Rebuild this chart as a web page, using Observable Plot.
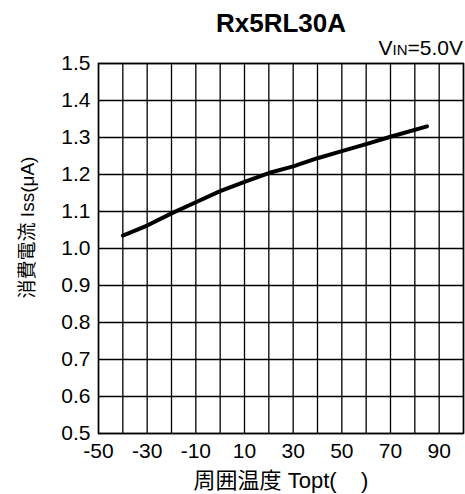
<!DOCTYPE html>
<html>
<head>
<meta charset="utf-8">
<script src="https://cdn.jsdelivr.net/npm/d3@7"></script>
<script src="https://cdn.jsdelivr.net/npm/@observablehq/plot@0.6"></script>
<style>
  html, body { margin: 0; padding: 0; background: #fff; }
  svg { display: block; }
</style>
</head>
<body>
<div id="chart"></div>
<script>
const title = "Rx5RL30A";
const xLabel = "周囲温度 Topt(\u00a0\u00a0\u00a0\u00a0)";
const yLabel = "消費電流 Iss(μA)";
const temps = [-40, -30, -20, -10, 0, 10, 20, 30, 40, 50, 60, 70, 85];
const iss = [1.035, 1.062, 1.095, 1.125, 1.155, 1.18, 1.204, 1.222, 1.244, 1.263, 1.282, 1.302, 1.33];
const xGrid = d3.range(-50, 101, 10);
const yGrid = d3.range(5, 16).map(d => d / 10);
const xTicks = [-50, -30, -10, 10, 30, 50, 70, 90];
const yTicks = yGrid;

const data = temps.map((t, i) => ({t, v: iss[i]}));
const font = "'Liberation Sans', Arial, 'Noto Sans CJK JP', sans-serif";

const plot = Plot.plot({
  width: 465,
  height: 494,
  marginLeft: 98,
  marginRight: 2,
  marginTop: 63,
  marginBottom: 61,
  style: {fontFamily: font, fontSize: "21px", color: "#000", background: "#fff"},
  x: {domain: [-50, 100]},
  y: {domain: [0.5, 1.5]},
  marks: [
    Plot.gridX(xGrid, {stroke: "#000", strokeOpacity: 1, strokeWidth: 1.3}),
    Plot.gridY(yGrid, {stroke: "#000", strokeOpacity: 1, strokeWidth: 1.3}),
    Plot.frame({stroke: "#000", strokeWidth: 1.5}),
    Plot.axisX(xTicks, {tickSize: 0, tickPadding: 10, label: null, fontSize: 21, tickFormat: d => String(d)}),
    Plot.axisY(yTicks, {tickSize: 0, tickPadding: 8, label: null, tickFormat: d3.format(".1f"), fontSize: 21}),
    Plot.line(data, {x: "t", y: "v", stroke: "#000", strokeWidth: 4}),
    Plot.text([title], {frameAnchor: "top", lineAnchor: "middle", dy: -40, fontWeight: "bold", fontSize: 26, textAnchor: "middle", fill: "#000"}),
    Plot.text([xLabel], {frameAnchor: "bottom", lineAnchor: "middle", dy: 47, fontSize: 22, textAnchor: "middle", fill: "#000"}),
    Plot.text([yLabel], {frameAnchor: "left", lineAnchor: "middle", dx: -71, dy: -21, rotate: -90, fontSize: 19, textAnchor: "middle", fill: "#000"})
  ]
});

// Supply-voltage annotation with small-caps subscript
const svg = d3.select(plot);
const t = svg.append("text")
  .attr("x", 463).attr("y", 55)
  .attr("text-anchor", "end")
  .attr("font-family", font)
  .attr("font-size", 21)
  .attr("fill", "#000");
t.append("tspan").text("V");
t.append("tspan").attr("font-size", 15).text("IN");
t.append("tspan").text("=5.0V");

document.getElementById("chart").appendChild(plot);
</script>
</body>
</html>
